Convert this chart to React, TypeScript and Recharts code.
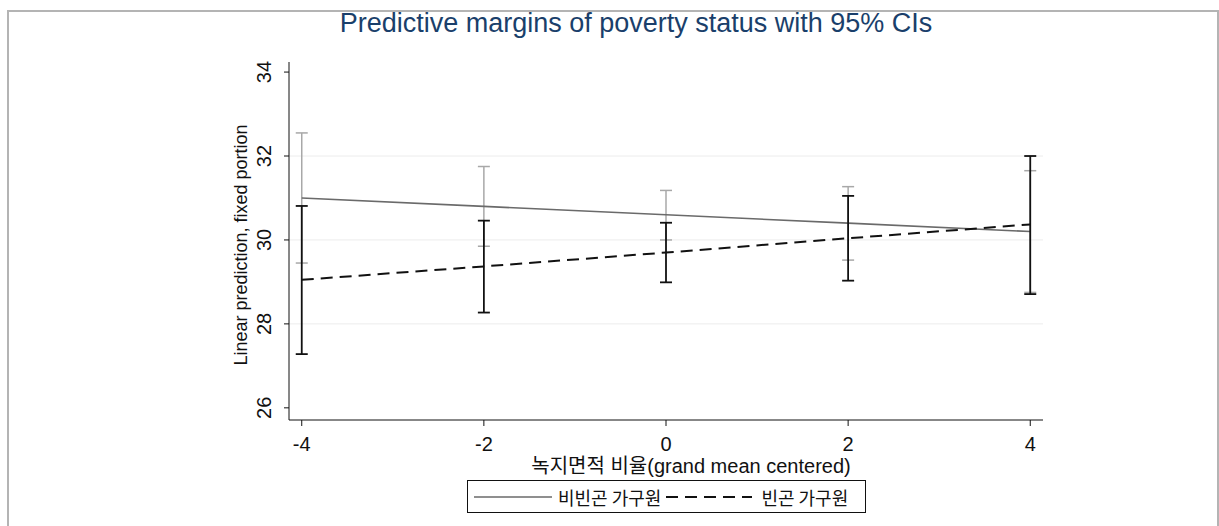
import React from 'react';
import { ComposedChart, Line, XAxis, YAxis, ErrorBar, ReferenceLine } from 'recharts';

const xValues = [-4, -2, 0, 2, 4];
const xTicks = [-4, -2, 0, 2, 4];
const yTicks = [26, 28, 30, 32, 34];
const gridValues = [28, 30, 32];

const nonPoorMargin = [31.0, 30.8, 30.6, 30.4, 30.2];
const nonPoorLower = [29.45, 29.85, 30.0, 29.52, 28.75];
const nonPoorUpper = [32.55, 31.75, 31.18, 31.27, 31.65];

const poorMargin = [29.05, 29.37, 29.7, 30.04, 30.37];
const poorLower = [27.28, 28.27, 28.99, 29.03, 28.71];
const poorUpper = [30.81, 30.46, 30.41, 31.05, 32.0];

const data = xValues.map((x, i) => ({
  x,
  nonPoor: nonPoorMargin[i],
  nonPoorErr: [nonPoorMargin[i] - nonPoorLower[i], nonPoorUpper[i] - nonPoorMargin[i]],
  poor: poorMargin[i],
  poorErr: [poorMargin[i] - poorLower[i], poorUpper[i] - poorMargin[i]],
}));

const FONT = '"Liberation Sans", Arial, "Noto Sans CJK KR", sans-serif';

const RotatedTick = (props: any) => {
  const { x, y, payload } = props;
  const cx = x - 18;
  return (
    <text
      x={cx}
      y={y}
      transform={`rotate(-90 ${cx} ${y})`}
      textAnchor="middle"
      dominantBaseline="central"
      fontSize={20}
      fontFamily={FONT}
      fill="#111"
    >
      {payload.value}
    </text>
  );
};

const App: React.FC = () => {
  return (
    <div style={{ position: 'absolute', left: 0, top: 0, width: 1219, height: 526, overflow: 'hidden', background: '#fff', fontFamily: FONT }}>
      <div style={{ position: 'absolute', left: 7, top: 10, width: 1208, height: 540, border: '2px solid #b4b4b4' }} />
      <div style={{ position: 'absolute', left: 0, top: 7, width: 1272, textAlign: 'center', fontSize: 27, color: '#1a3f6b', lineHeight: 1.2 }}>
        Predictive margins of poverty status with 95% CIs
      </div>
      <div style={{ position: 'absolute', left: 0, top: 0 }}>
        <ComposedChart width={1219} height={526} data={data} margin={{ top: 62, right: 176, left: 229, bottom: 76 }}>
          {gridValues.map((v) => (
            <ReferenceLine key={v} y={v} stroke="#ececec" strokeWidth={1} />
          ))}
          <XAxis
            type="number"
            dataKey="x"
            domain={[-4.14, 4.14]}
            ticks={xTicks}
            allowDataOverflow
            height={30}
            tickSize={6}
            stroke="#111"
            tick={{ fill: '#111', fontSize: 20, fontFamily: FONT }}
            tickMargin={11}
          />
          <YAxis
            type="number"
            domain={[25.71, 34.24]}
            ticks={yTicks}
            allowDataOverflow
            width={60}
            tickSize={5}
            stroke="#111"
            tick={<RotatedTick />}
          />
          <Line
            type="linear"
            dataKey="nonPoor"
            stroke="#6a6a6a"
            strokeWidth={1.6}
            dot={false}
            isAnimationActive={false}
          >
            <ErrorBar dataKey="nonPoorErr" direction="y" width={6} stroke="#a8a8a8" strokeWidth={1.5} />
          </Line>
          <Line
            type="linear"
            dataKey="poor"
            stroke="#111"
            strokeWidth={2}
            strokeDasharray="12 7"
            dot={false}
            isAnimationActive={false}
          >
            <ErrorBar dataKey="poorErr" direction="y" width={6} stroke="#111" strokeWidth={1.8} />
          </Line>
        </ComposedChart>
      </div>
      <div
        style={{
          position: 'absolute',
          left: 241,
          top: 245,
          transform: 'translate(-50%, -50%) rotate(-90deg)',
          whiteSpace: 'nowrap',
          fontSize: 18,
          color: '#111',
          lineHeight: 1,
        }}
      >
        Linear prediction, fixed portion
      </div>
      <div style={{ position: 'absolute', left: 0, top: 456, width: 1382, textAlign: 'center', fontSize: 20, color: '#111', lineHeight: 1 }}>
        녹지면적 비율(grand mean centered)
      </div>
      <div
        style={{
          position: 'absolute',
          left: 467,
          top: 480,
          width: 397,
          height: 31,
          border: '1.5px solid #111',
          display: 'flex',
          alignItems: 'center',
          fontSize: 18,
          color: '#111',
          fontFamily: '"Noto Sans CJK KR", sans-serif',
        }}
      >
        <svg width={78} height={10} style={{ marginLeft: 6 }}>
          <line x1={0} y1={5} x2={78} y2={5} stroke="#6a6a6a" strokeWidth={1.6} />
        </svg>
        <span style={{ marginLeft: 6 }}>비빈곤 가구원</span>
        <svg width={86} height={10} style={{ marginLeft: 5 }}>
          <line x1={0} y1={5} x2={86} y2={5} stroke="#111" strokeWidth={2} strokeDasharray="12 7" />
        </svg>
        <span style={{ marginLeft: 9 }}>빈곤 가구원</span>
      </div>
    </div>
  );
};

export default App;
